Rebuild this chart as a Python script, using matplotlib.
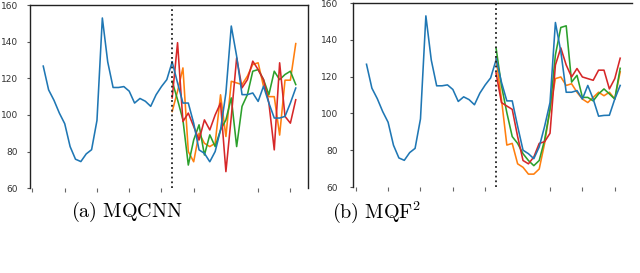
import matplotlib.pyplot as plt

plt.rcParams["mathtext.fontset"] = "cm"

# time index (steps); history ends where the forecast starts
hist_x = list(range(2, 27))
fc_x = list(range(26, 50))
split = 26

history = [126.7, 113.7, 108, 101, 95.2, 82.7, 75.8, 74.5, 78.7, 81, 97, 153,
           129, 115, 115, 115.5, 113, 106.5, 109, 107.5, 104.7, 111, 115.5, 119.3, 129]

# (a) MQCNN forecasts
mqcnn_blue = [129, 117.5, 106.5, 106.5, 95.5, 80.9, 79, 74.4, 80, 91.8, 112, 148.6,
              132.1, 111.1, 111.1, 112, 107.4, 115.7, 106.5, 98.3, 98.3, 99.2, 106.5, 114.7]
mqcnn_orange = [101.9, 113, 125.7, 80, 74.4, 90, 84.5, 82.7, 84.5, 111, 88.2, 118.4,
                117.5, 116.6, 121.2, 127.6, 128.5, 115.7, 110, 110, 89, 119, 119, 139]
mqcnn_green = [118.4, 108.3, 97.3, 72.6, 86.3, 94.6, 78.1, 89.1, 82.7, 91.8, 97.3, 109.3,
               82.7, 104.7, 111.1, 123.9, 124.8, 119.3, 111.1, 123.9, 119.3, 122.1, 123.9, 116.6]
mqcnn_red = [109.3, 139.5, 96.4, 101, 93.7, 86.3, 97.3, 91.8, 100, 106.5, 69, 99,
             131.2, 114.8, 119.3, 129.4, 124.8, 119.3, 106.5, 80.9, 128.5, 99.2, 95.5, 108.3]

# (b) MQF2 forecasts
mqf2_blue = [130, 117, 106.8, 106.8, 93, 80, 78.1, 75.4, 81.8, 93, 105.9, 149.4,
             133.7, 111.5, 111.5, 112.4, 107.8, 115.2, 107.8, 98.5, 98.9, 99, 107.8, 115.2]
mqf2_orange = [130, 107.8, 82.8, 83.7, 72.6, 70.7, 67, 67, 69.8, 83.7, 102.2, 118.9,
               119.8, 115.2, 116.1, 111.5, 107.8, 105.9, 108.7, 111.5, 109.6, 111.5, 107.8, 122.6]
mqf2_green = [135.6, 115.2, 100.4, 87.4, 83.7, 78.1, 74.4, 71.6, 74.4, 85.6, 102.2, 131.8,
              146.7, 147.6, 117, 120.7, 108.7, 108.7, 106.8, 110.6, 113.3, 110.6, 107.8, 124.5]
mqf2_red = [122, 105.9, 104, 102.2, 87.4, 74.4, 72.6, 76.3, 83.7, 84.6, 89.2, 126.3,
            135.6, 126.3, 119.8, 124.4, 119.8, 118.9, 118, 123.5, 123.5, 113.3, 118.9, 130]

ticks_a = [0, 6, 12, 18, 24, 30, 42, 48]
ticks_b = [0, 6, 12, 18, 24, 36, 42, 48]

colors = ["#1f77b4", "#ff7f0e", "#2ca02c", "#d62728"]

fig = plt.figure(figsize=(6.4, 2.73), dpi=100)
ax1 = fig.add_axes([0.047, 0.311, 0.434, 0.670])
ax2 = fig.add_axes([0.552, 0.315, 0.436, 0.674])

panels = [
    (ax1, [mqcnn_blue, mqcnn_orange, mqcnn_green, mqcnn_red], ticks_a, r"$\mathrm{(a)\ MQCNN}$", 6.5, 127),
    (ax2, [mqf2_blue, mqf2_orange, mqf2_green, mqf2_red], ticks_b, r"$\mathrm{(b)\ MQF}^2$", 9, 377),
]

for ax, forecasts, ticks, caption, pad, cap_x in panels:
    ax.plot(hist_x, history, color=colors[0], lw=1.15)
    # draw blue last so it sits on top like the original
    for idx in [1, 2, 3, 0]:
        ax.plot(fc_x, forecasts[idx], color=colors[idx], lw=1.15)
    ax.axvline(split, color="#222222", ls=":", lw=1.3)
    ax.set_xlim(-0.45, 51.25)
    ax.set_ylim(60, 160)
    ax.set_yticks([60, 80, 100, 120, 140, 160])
    ax.set_xticks(ticks)
    ax.set_xticklabels([])
    ax.tick_params(axis="y", labelsize=6.5, labelcolor="#333333", length=2, pad=pad, color="#555555")
    ax.tick_params(axis="x", length=3, color="#666666")
    ax.spines["bottom"].set_visible(False)
    for s in ["left", "top", "right"]:
        ax.spines[s].set_color("#222222")
        ax.spines[s].set_linewidth(1.0)
    if ax is ax2:
        ax.spines["right"].set_visible(False)
    fig.text(cap_x / 640, 1 - 212 / 273, caption, fontsize=14.5, ha="center", va="center")

fig.savefig("out.png", dpi=100)
